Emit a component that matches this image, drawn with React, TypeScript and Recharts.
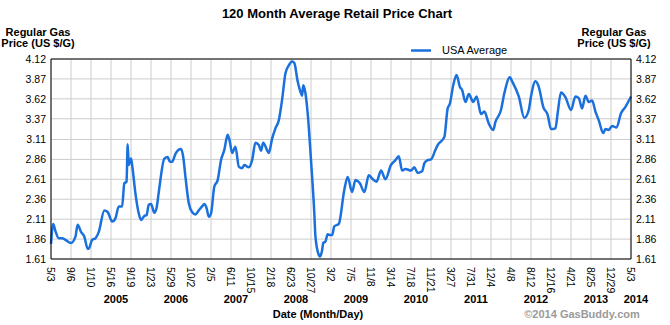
import React from 'react';
import { LineChart, Line, XAxis, YAxis, CartesianGrid, ReferenceLine } from 'recharts';

// Week index since 5/3/2004 (weekly data) and average price ($/gal)
const weeks = [0, 2, 4, 7, 10, 13, 18, 22, 24, 27, 30, 33, 34, 37, 40, 43, 48, 51, 55, 58, 61, 64, 66, 68, 69, 70, 72, 73, 76, 79, 81, 84, 86, 88, 90, 93, 95, 97, 102, 105, 107, 109, 112, 117, 119, 121, 124, 127, 130, 133, 136, 138, 140, 142, 144, 147, 150, 153, 156, 159, 161, 163, 166, 169, 172, 174, 178, 181, 184, 187, 189, 191, 195, 196, 199, 202, 205, 208, 211, 214, 217, 219, 222, 225, 226, 227, 229, 231, 234, 237, 238, 241, 242, 244, 245, 247, 249, 251, 253, 255, 259, 264, 267, 271, 274, 278, 282, 286, 289, 293, 297, 301, 306, 310, 313, 316, 319, 324, 327, 330, 334, 336, 339, 342, 346, 348, 354, 357, 359, 362, 365, 368, 370, 373, 376, 380, 383, 387, 390, 394, 398, 400, 405, 408, 413, 415, 421, 426, 430, 432, 436, 439, 443, 447, 450, 454, 456, 459, 463, 468, 472, 475, 478, 481, 484, 487, 490, 493, 497, 499, 502, 505, 509, 513, 517, 522];
const prices = [1.80, 2.05, 1.96, 1.87, 1.87, 1.85, 1.81, 1.89, 2.04, 1.95, 1.89, 1.74, 1.74, 1.85, 1.87, 1.95, 2.22, 2.20, 2.08, 2.12, 2.27, 2.27, 2.56, 2.58, 3.05, 2.79, 2.87, 2.79, 2.43, 2.18, 2.10, 2.15, 2.16, 2.29, 2.30, 2.19, 2.25, 2.45, 2.87, 2.89, 2.83, 2.83, 2.93, 2.99, 2.89, 2.64, 2.31, 2.20, 2.17, 2.22, 2.27, 2.30, 2.25, 2.14, 2.18, 2.52, 2.60, 2.85, 2.98, 3.17, 3.08, 2.94, 3.02, 2.77, 2.75, 2.79, 2.76, 2.85, 3.07, 3.04, 2.97, 3.07, 2.96, 2.94, 3.12, 3.25, 3.35, 3.61, 3.94, 4.04, 4.09, 4.07, 3.84, 3.69, 3.66, 3.79, 3.69, 3.44, 2.85, 2.18, 1.89, 1.66, 1.64, 1.72, 1.81, 1.83, 1.92, 1.91, 1.91, 2.02, 2.05, 2.48, 2.64, 2.45, 2.60, 2.56, 2.45, 2.66, 2.62, 2.58, 2.72, 2.61, 2.79, 2.85, 2.90, 2.72, 2.74, 2.72, 2.76, 2.69, 2.71, 2.81, 2.85, 2.86, 2.98, 3.04, 3.14, 3.50, 3.56, 3.79, 3.92, 3.77, 3.73, 3.58, 3.68, 3.58, 3.65, 3.43, 3.46, 3.31, 3.23, 3.33, 3.48, 3.69, 3.89, 3.84, 3.65, 3.38, 3.48, 3.65, 3.84, 3.77, 3.52, 3.42, 3.24, 3.25, 3.44, 3.70, 3.64, 3.48, 3.65, 3.63, 3.50, 3.66, 3.58, 3.60, 3.46, 3.35, 3.19, 3.24, 3.23, 3.28, 3.26, 3.44, 3.52, 3.65];

const tickLabels = ['5/3', '9/6', '1/10', '5/16', '9/19', '1/23', '5/29', '10/2', '2/5', '6/11', '10/15', '2/18', '6/23', '10/27', '3/2', '7/5', '11/8', '3/14', '7/18', '11/21', '3/27', '7/31', '12/4', '4/8', '8/12', '12/16', '4/21', '8/25', '12/29', '5/3'];
const tickWeekStep = 18;
const yearTickIdx = [3, 6, 9, 12, 15, 18, 21, 24, 27, 29];
const yearLabels = ['2005', '2006', '2007', '2008', '2009', '2010', '2011', '2012', '2013', '2014'];
const yTicks = [1.61, 1.86, 2.11, 2.36, 2.61, 2.86, 3.11, 3.37, 3.62, 3.87, 4.12];

const FONT = 'Liberation Sans, Arial, sans-serif';
const LINE_COLOR = '#1a70dc';

const data = weeks.map((w, i) => ({ week: w, price: prices[i] }));
const xTicks = tickLabels.map((_, i) => i * tickWeekStep);

const XTick = (props: any) => {
  const { x, payload } = props;
  const idx = Math.round(payload.value / tickWeekStep);
  const yi = yearTickIdx.indexOf(idx);
  return (
    <g>
      <text
        transform={`translate(${x - 3.6},267) rotate(90)`}
        x={0}
        y={0}
        textAnchor="start"
        fontSize={10.5}
        fontFamily={FONT}
        fill="#000"
      >
        {tickLabels[idx]}
      </text>
      {yi >= 0 && (
        <text x={x + 5} y={303} textAnchor="middle" fontSize={11} fontWeight="bold" fontFamily={FONT} fill="#000">
          {yearLabels[yi]}
        </text>
      )}
    </g>
  );
};

const LeftTick = (props: any) => {
  const { y, payload } = props;
  return (
    <text x={46} y={y + 3.8} textAnchor="end" fontSize={10.5} fontFamily={FONT} fill="#000">
      {Number(payload.value).toFixed(2)}
    </text>
  );
};

const RightTick = (props: any) => {
  const { y, payload } = props;
  return (
    <text x={636} y={y + 3.8} textAnchor="start" fontSize={10.5} fontFamily={FONT} fill="#000">
      {Number(payload.value).toFixed(2)}
    </text>
  );
};

export default function App() {
  return (
    <div style={{ position: 'absolute', left: 0, top: 0, width: 670, height: 325, background: '#fff' }}>
      <LineChart width={670} height={325} data={data} margin={{ top: 59, right: 4, bottom: 6, left: 6 }}>
        <CartesianGrid stroke="#cccccc" strokeWidth={1} yAxisId="left" />
        <XAxis
          dataKey="week"
          type="number"
          domain={[0, 522]}
          ticks={xTicks}
          interval={0}
          tick={<XTick />}
          tickLine={false}
          axisLine={{ stroke: '#000', strokeWidth: 1 }}
          height={60}
        />
        <YAxis
          yAxisId="left"
          domain={[1.61, 4.12]}
          ticks={yTicks}
          interval={0}
          tick={<LeftTick />}
          tickLine={false}
          axisLine={{ stroke: '#000', strokeWidth: 1 }}
          width={45}
          allowDataOverflow
        />
        <YAxis
          yAxisId="right"
          orientation="right"
          domain={[1.61, 4.12]}
          ticks={yTicks}
          interval={0}
          tick={<RightTick />}
          tickLine={false}
          axisLine={{ stroke: '#000', strokeWidth: 1 }}
          width={35}
          allowDataOverflow
        />
        <ReferenceLine y={4.12} yAxisId="left" stroke="#000" strokeWidth={1} ifOverflow="extendDomain" />
        <Line
          yAxisId="left"
          type="monotone"
          dataKey="price"
          stroke={LINE_COLOR}
          strokeWidth={2.5}
          dot={false}
          isAnimationActive={false}
        />
      </LineChart>
      <svg width={670} height={325} style={{ position: 'absolute', left: 0, top: 0, pointerEvents: 'none' }}>
        <text x={337} y={18} textAnchor="middle" fontSize={13} fontWeight="bold" fontFamily={FONT} fill="#000">
          120 Month Average Retail Price Chart
        </text>
        <text x={38} y={35.5} textAnchor="middle" fontSize={11} fontWeight="bold" fontFamily={FONT} fill="#000">
          Regular Gas
        </text>
        <text x={38} y={47} textAnchor="middle" fontSize={11} fontWeight="bold" fontFamily={FONT} fill="#000">
          Price (US $/G)
        </text>
        <text x={614} y={35.5} textAnchor="middle" fontSize={11} fontWeight="bold" fontFamily={FONT} fill="#000">
          Regular Gas
        </text>
        <text x={614} y={47} textAnchor="middle" fontSize={11} fontWeight="bold" fontFamily={FONT} fill="#000">
          Price (US $/G)
        </text>
        <line x1={411} y1={50.5} x2={431} y2={50.5} stroke={LINE_COLOR} strokeWidth={2.5} />
        <text x={442} y={54} fontSize={11} fontFamily={FONT} fill="#000">
          USA Average
        </text>
        <text x={318} y={318} textAnchor="middle" fontSize={11} fontWeight="bold" fontFamily={FONT} fill="#000">
          Date (Month/Day)
        </text>
        <text x={582} y={318} textAnchor="middle" fontSize={11} fontWeight="bold" fontFamily={FONT} fill="#9a9a9a">
          ©2014 GasBuddy.com
        </text>
      </svg>
    </div>
  );
}
